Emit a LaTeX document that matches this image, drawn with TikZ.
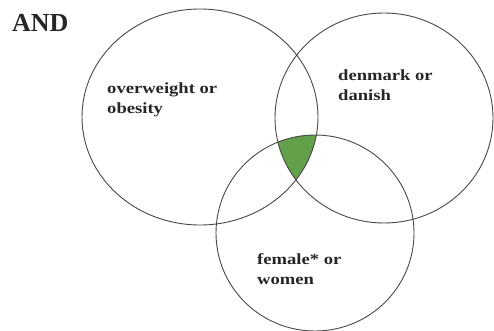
\documentclass[tikz,border=0pt]{standalone}
\usepackage{fontspec}
\setmainfont{Liberation Serif}
\newfontfamily\lblfont[FakeStretch=1.2]{Liberation Serif}
\usetikzlibrary{positioning}
\definecolor{setgray}{RGB}{72,72,72}
\definecolor{andgreen}{RGB}{98,160,74}
\definecolor{txtgray}{RGB}{38,38,38}

\begin{document}
\begin{tikzpicture}[
  x=1pt, y=-1pt,
  % set outlines
  setline/.style={draw=setgray, line width=0.9pt},
  % labels inside the sets
  setlbl/.style={anchor=north west, inner sep=0pt, align=left, text=txtgray,
    font=\lblfont\bfseries\fontsize{15.5}{20.5}\selectfont},
  title/.style={anchor=base west, inner sep=0pt, text=txtgray,
    font=\bfseries\fontsize{26}{30}\selectfont},
]
\useasboundingbox (0,0) rectangle (494,331);

% -------------------------------------------------------
% Centres of the three sets
% -------------------------------------------------------
\coordinate (ow) at (200,117);   % overweight or obesity
\coordinate (dk) at (384,118);   % denmark or danish
\coordinate (fw) at (315,233);   % female* or women

% -------------------------------------------------------
% AND region (all three sets)
% -------------------------------------------------------
\begin{scope}
  \clip (ow) ellipse [x radius=118pt, y radius=108pt];
  \clip (dk) ellipse [x radius=109pt, y radius=105pt];
  \fill[andgreen] (fw) ellipse [x radius=99pt, y radius=98pt];
\end{scope}

% Set outlines
\draw[setline] (ow) ellipse [x radius=118pt, y radius=108pt];
\draw[setline] (dk) ellipse [x radius=109pt, y radius=105pt];
\draw[setline] (fw) ellipse [x radius=99pt, y radius=98pt];

% -------------------------------------------------------
% Texts
% -------------------------------------------------------
\node[title]  (andt) at (12,32)     {AND};
\node[setlbl] (owl)  at (107,82.5)  {overweight or\\obesity};
\node[setlbl] (dkl)  at (338,69.5)  {denmark or\\danish};
\node[setlbl] (fwl)  at (257,253.3) {female* or\\women};

\end{tikzpicture}
\end{document}
